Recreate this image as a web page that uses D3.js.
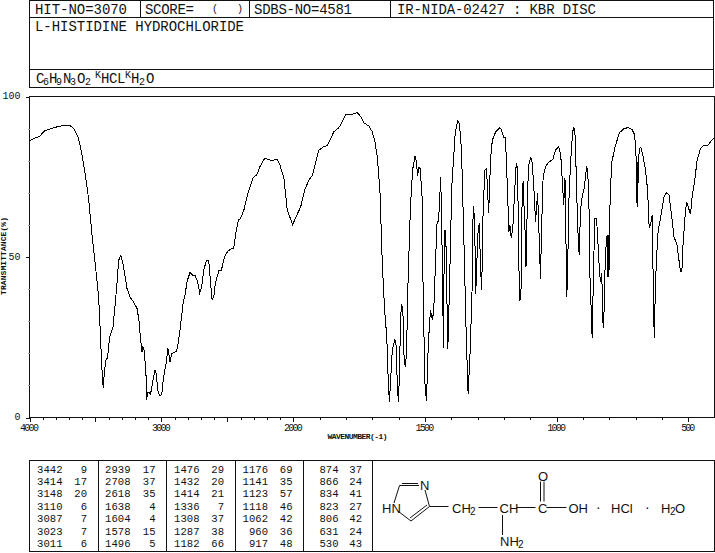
<!DOCTYPE html>
<html>
<head>
<meta charset="utf-8">
<script src="https://cdn.jsdelivr.net/npm/d3@7"></script>
<style>
html,body{margin:0;padding:0;background:#fff;overflow:hidden}
svg{display:block}
text{font-family:"Liberation Mono","DejaVu Sans Mono",monospace;fill:#111}
</style>
</head>
<body>
<div id="chart"></div>
<script>
const wavenumber = [4000,3957,3924,3889,3843,3805,3742,3691,3661,3628,3603,3577,3552,3527,3502,3476,3464,3451,3441,3431,3418,3408,3393,3367,3350,3337,3324,3307,3292,3271,3261,3236,3211,3185,3170,3160,3147,3142,3132,3125,3117,3112,3104,3094,3082,3064,3049,3039,3028,3013,2998,2983,2965,2950,2935,2920,2889,2877,2856,2836,2819,2806,2783,2763,2745,2725,2710,2695,2679,2659,2641,2629,2616,2603,2591,2565,2545,2522,2497,2464,2452,2436,2416,
2400,2375,2344,2304,2278,2253,2218,2185,2167,2121,2101,2071,2046,2005,1987,1972,1957,1941,1927,1915,1903,1886,1871,1858,1846,1827,1814,1800,1776,1757,1744,1732,1713,1700,1690,1681,1671,1662,1653,1645,1639,1635,1631,1624,1614,1610,1605,1601,1598,1592,1589,1584,1580,1575,1570,1564,1555,1547,1538,1532,1528,1523,1518,1510,1507,1500,1494,1489,1484,1479,1471,1466,1460,1454,1448,1440,1433,1430,1426,1421,1416,1413,1407,1398,1385,1376,1369,1361,1351,1343,1336,1328,1321,1317,1315,1311,
1307,1303,1298,1293,1290,1285,1281,1279,1272,1266,1262,1258,1255,1251,1244,1231,1215,1209,1201,1194,1186,1181,1177,1172,1166,1159,1153,1148,1143,1139,1135,1131,1127,1125,1120,1116,1114,1107,1098,1092,1085,1080,1072,1067,1061,1057,1051,1042,1029,1014,1004,992,984,976,973,968,965,961,957,953,947,939,934,929,923,918,914,909,903,894,886,882,877,872,867,865,861,855,848,842,836,832,828,825,821,817,812,808,805,803,801,798,791,778,761,744,728,713,703,698,694,692,691,686,680,671,662,654,649,647,642,637,634,629,625,621,614,605,592,582,573,564,554,542,535,529,524,520,512,506,500,491,485,475,466,453,440,425,415,401];
const transmittance = [86.2,87.1,87.5,89.2,89.9,90.4,91.0,90.9,89.8,86.9,82.2,75.5,68.2,57.3,48.0,37.6,27.2,15.3,9.3,14.7,18.3,18.5,25.1,28.2,35.5,41.7,49.0,50.5,48.0,42.8,40.2,37.4,36.0,34.0,30.3,25.1,20.5,22.2,21.0,17.9,13.7,5.6,7.7,7.9,7.3,11.6,14.7,13.7,8.5,6.9,7.1,12.7,16.8,21.5,17.4,19.9,20.5,22.0,28.2,35.5,38.6,42.3,45.2,44.3,44.3,42.3,38.9,40.7,45.9,48.9,48.8,42.8,36.8,37.6,41.7,45.7,45.9,50.1,51.8,52.8,52.8,57.3,61.5,
62.0,64.6,69.8,74.8,75.5,78.1,80.7,80.4,80.1,80.4,78.6,74.5,64.6,60.1,63.0,65.6,70.8,73.9,75.5,79.6,83.3,84.3,84.7,86.9,89.0,90.3,92.1,94.5,94.5,95.0,93.7,91.8,90.8,89.0,85.9,81.2,70.8,48.0,33.4,25.1,10.6,4.9,10.6,21.0,24.3,23.0,10.6,4.8,10.6,31.4,35.0,34.5,19.9,15.8,19.4,42.8,65.6,77.0,81.4,79.6,75.2,77.9,77.6,67.7,39.7,10.6,5.1,18.9,27.2,33.4,30.3,34.5,48.0,60.4,61.5,74.8,44.9,21.5,58.4,58.4,35.0,21.2,39.7,71.9,88.5,92.4,91.6,83.3,52.1,25.1,7.3,21.0,39.7,63.6,65.8,60.4,
38.4,48.0,58.0,60.6,50.0,39.7,52.0,64.6,77.0,77.5,70.8,63.6,69.8,80.2,86.4,89.0,90.3,89.5,87.2,87.2,69.8,57.8,59.9,55.8,59.3,70.8,79.3,77.5,47.0,36.3,39.7,66.7,73.7,68.7,58.9,47.0,56.3,78.1,81.0,79.1,69.8,61.0,69.8,58.4,43.3,58.4,75.0,78.1,79.6,80.4,83.3,84.3,81.7,70.8,66.1,74.5,59.4,37.6,50.0,67.7,79.1,89.0,90.3,87.4,68.7,56.3,50.6,64.6,68.7,71.9,78.1,77.5,66.7,38.6,32.4,24.9,39.7,62.0,62.0,53.2,44.3,42.3,44.9,30.3,28.0,43.8,53.2,56.8,43.8,56.8,43.8,63.6,79.1,84.3,88.7,90.0,90.3,89.7,88.0,81.2,65.6,79.6,72.0,83.8,84.1,81.2,77.0,70.8,60.4,59.2,60.4,63.0,48.5,24.9,38.6,48.5,58.4,62.0,68.7,70.1,69.3,63.6,56.3,53.7,49.0,45.4,45.4,53.2,62.5,67.2,65.6,63.3,68.7,73.9,80.2,83.8,84.8,84.8,85.9,87.1];

const yTickLabels = [100,50,0];
const yTicks = [0,10,20,30,40,50,60,70,80,90,100];
const xMajorTicks = [4000,3500,3000,2500,2000,1500,1000,500];
const xTickLabels = [4000,3000,2000,1500,1000,500];
const xMinorTicks = d3.range(400,4001,100).filter(v => !xMajorTicks.includes(v));

const peakWave = [[3442,3414,3148,3110,3087,3023,3011],[2939,2708,2618,1638,1604,1578,1496],[1476,1432,1414,1336,1308,1287,1182],[1176,1141,1123,1118,1062,960,917],[874,866,834,823,806,631,530]];
const peakTrans = [[9,17,20,6,7,7,6],[17,37,35,4,4,15,5],[29,20,21,7,37,38,66],[69,35,57,46,42,36,48],[37,24,41,27,42,24,43]];

const headerCells = ["HIT-NO=3070","SCORE=","SDBS-NO=4581","IR-NIDA-02427 : KBR DISC"];
const compoundName = "L-HISTIDINE HYDROCHLORIDE";

const W = 715, H = 553;
const svg = d3.select("#chart").append("svg").attr("width",W).attr("height",H);
const ink = "#111";

const x = d3.scaleLinear().domain([4000,2000,400]).range([29.5,293.3,714.5]);
const y = d3.scaleLinear().domain([0,100]).range([417.5,96.5]);

function rect(x0,y0,x1,y1){
  svg.append("rect").attr("x",x0).attr("y",y0).attr("width",x1-x0).attr("height",y1-y0)
    .attr("fill","none").attr("stroke",ink).attr("stroke-width",1).attr("shape-rendering","crispEdges");
}
function seg(x0,y0,x1,y1,crisp=true){
  svg.append("line").attr("x1",x0).attr("y1",y0).attr("x2",x1).attr("y2",y1)
    .attr("stroke",ink).attr("stroke-width",1).attr("shape-rendering",crisp?"crispEdges":"auto");
}
function label(s,px,py,size,opts={}){
  const t = svg.append("text").attr("x",px).attr("y",py).attr("font-size",size)
    .attr("dominant-baseline","central").attr("text-anchor",opts.anchor||"start").text(s);
  if(opts.len) t.attr("textLength",opts.len).attr("lengthAdjust","spacing");
  if(opts.font) t.style("font-family",opts.font);
  if(opts.weight) t.attr("font-weight",opts.weight);
  return t;
}

// header
rect(29.5,0.5,713.5,87.5);
seg(29.5,17.5,713.5,17.5);
seg(29.5,69.5,713.5,69.5);
seg(140.5,0,140.5,17);
seg(249.5,0,249.5,17);
seg(390.5,0,390.5,17);
label(headerCells[0],35,9.5,14,{len:92});
label(headerCells[1],145,9.5,14,{len:49});
label("(",212,9.5,10);
label(")",237,9.5,10);
label(headerCells[2],254,9.5,14,{len:98});
label(headerCells[3],397,9.5,14,{len:199});
label(compoundName,35,27,14,{len:209});

// formula
const formula = [["C",36,0],["6",43,1],["H",49,0],["9",56,1],["N",63,0],["3",70,1],["O",77,0],["2",85,1],["K",95,2],["H",101,0],["C",109,0],["L",117,0],["K",125,2],["H",131,0],["2",139,1],["O",146,0]];
formula.forEach(([c,px,kind]) => {
  const size = kind===0 ? 14 : 10;
  const py = kind===0 ? 79 : kind===1 ? 82 : 75.5;
  label(c,px,py,size);
});

// plot frame
rect(29.5,96.5,714.5,417.5);

// axes
const gx = svg.append("g").attr("transform","translate(0,417.5)");
gx.append("g").call(d3.axisBottom(x).tickValues(xMinorTicks).tickSize(2).tickFormat(""))
  .call(g => g.select(".domain").remove());
gx.append("g").call(d3.axisBottom(x).tickValues(xMajorTicks).tickSize(4).tickFormat(""))
  .call(g => g.select(".domain").remove());
gx.selectAll("line").attr("stroke",ink).attr("shape-rendering","crispEdges");
xTickLabels.forEach(v => {
  const s = String(v);
  label(s,x(v),428,10,{anchor:"middle",len:s.length*4.7});
});

const gy = svg.append("g").attr("transform","translate(29.5,0)");
gy.call(d3.axisLeft(y).tickValues(yTicks).tickSize(2).tickFormat(""))
  .call(g => g.select(".domain").remove());
gy.selectAll("line").attr("stroke",d => yTickLabels.includes(d) ? ink : "#999").attr("x2",d => yTickLabels.includes(d) ? -4 : -2).attr("shape-rendering","crispEdges");
yTickLabels.forEach(v => label(String(v),20.5,y(v),10,{anchor:"end"}));

label("WAVENUMBER(-1)",327.5,436.5,8,{len:60,weight:"bold"});
label("TRANSMITTANCE(%)",0,0,8,{len:78,anchor:"middle",weight:"bold"}).attr("transform","translate(3.5,256) rotate(-90)");

// spectrum
const line = d3.line().x(d => x(d[0])).y(d => y(d[1]));
svg.append("path").datum(d3.zip(wavenumber,transmittance))
  .attr("d",line).attr("fill","none").attr("stroke","#000").attr("stroke-width",1)
  .attr("shape-rendering","crispEdges").attr("stroke-linejoin","miter");

// peak table
rect(29.5,460.5,372.5,551.5);
rect(372.5,460.5,714.5,551.5);
const divX = [98.5,166.5,235.5,303.5];
divX.forEach(v => seg(v,460,v,552));
const waveRight = [62.5,130.5,199.5,268,338.5];
const transRight = [87,155.5,224,292.5,362];
const rowY = d3.scalePoint().domain(d3.range(7)).range([469.5,544]);
peakWave.forEach((col,i) => col.forEach((v,j) => {
  label(String(v),waveRight[i],rowY(j),10.6,{anchor:"end"});
  label(String(peakTrans[i][j]),transRight[i],rowY(j),10.6,{anchor:"end"});
}));

// structure
const sans = '"Liberation Sans",Arial,sans-serif';
[[394,503,399.5,485.5],[399.5,485.5,419,485.5],[402,483.5,418,483.5],[425,490,429.5,506.5],[429.5,506.5,411,521],[427,505,410,518],[411,521,398.5,511.5],[429.5,506.5,448.5,506.5],[478.5,507.5,497.5,507.5],[516.5,507.5,535.5,507.5],[546.5,507.5,566.5,507.5],[540.5,481.5,540.5,501.5],[544,481.5,544,501.5],[502.5,515,502.5,535]]
  .forEach(s => seg(s[0],s[1],s[2],s[3],false));
const chem = [["HN",382,508,13],["N",420,485,13],["CH",452,508,13],["2",470,511,10],["CH",499.5,508,13],["C",538,508,13],["O",538,476,13],["OH",568.5,508,13],["NH",500,541,13],["2",518,544,10],["·",596,507,14],["HCl",611,508,13],["·",645,507,14],["H",661,508,13],["2",670,511,10],["O",675,508,13]];
chem.forEach(([s,px,py,size]) => label(s,px,py,size,{font:sans}));
</script>
</body>
</html>
